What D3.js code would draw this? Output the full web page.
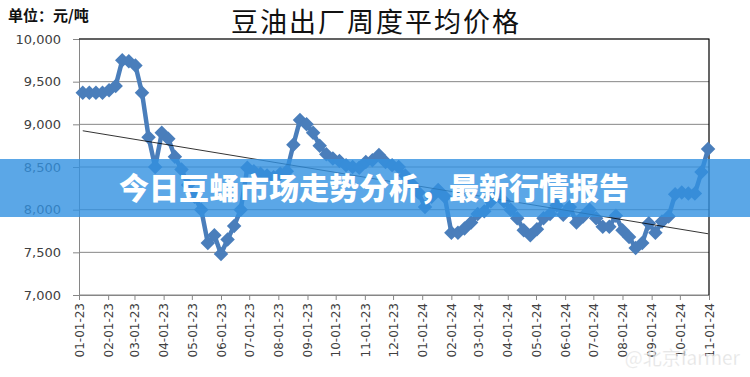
<!DOCTYPE html>
<html>
<head>
<meta charset="utf-8">
<script src="https://cdn.jsdelivr.net/npm/d3@7"></script>
<style>
  body { margin: 0; background: #fff; }
  svg { display: block; }
</style>
</head>
<body>
<script>
// weekly factory price of soybean oil, yuan/ton
var firstWeek = new Date(2023, 0, 5);
var prices = [9370,9370,9370,9370,9400,9450,9750,9740,9690,9370,
    8850,8500,8900,8830,8620,8470,8290,8150,8000,7610,
    7700,7480,7650,7810,8000,8490,8450,8420,8400,8380,
    8420,8450,8760,9050,9000,8900,8750,8650,8600,8570,
    8520,8500,8490,8560,8580,8640,8560,8520,8500,8400,
    8300,8200,8030,8150,8230,8150,7730,7730,7780,7850,
    7950,7980,8100,8190,8100,8000,7900,7760,7700,7770,
    7900,7950,8050,7940,8030,7850,7920,8000,7900,7800,
    7800,7930,7760,7680,7550,7610,7840,7730,7860,7920,
    8180,8200,8190,8190,8440,8710];
var weeks = prices.map(function(d, i) { return d3.timeDay.offset(firstWeek, 7 * i); });
var yTicks = [7000,7500,8000,8500,9000,9500,10000];
var xStart = new Date(2023, 0, 1), xEnd = new Date(2024, 10, 1);

var title = "豆油出厂周度平均价格";
var unitLabel = "单位：元/吨";
var bannerText = "今日豆蛹市场走势分析，最新行情报告";

var svg = d3.select("body").append("svg")
    .attr("width", 750)
    .attr("height", 377);

var plotL = 79, plotR = 709, plotT = 39, plotB = 295;

var x = d3.scaleTime()
    .domain([xStart, xEnd])
    .range([plotL, plotR]);

var y = d3.scaleLinear()
    .domain([7000, 10000])
    .range([plotB, plotT]);

// gridlines + y axis
var yAxis = d3.axisLeft(y)
    .tickValues(yTicks)
    .tickSize(6)
    .tickPadding(12)
    .tickFormat(d3.format(",d"));

svg.append("g")
    .selectAll("line")
    .data(yTicks)
    .enter().append("line")
    .attr("x1", plotL).attr("x2", plotR)
    .attr("y1", function(d) { return y(d); })
    .attr("y2", function(d) { return y(d); })
    .attr("stroke", "#868686")
    .attr("stroke-width", 1);

var gy = svg.append("g")
    .attr("transform", "translate(" + plotL + ",0)")
    .call(yAxis);
gy.select(".domain").attr("stroke", "#868686");
gy.selectAll(".tick line").attr("stroke", "#868686");
gy.selectAll(".tick text")
    .style("font-family", "'DejaVu Sans', Verdana, sans-serif")
    .style("font-size", "13px")
    .attr("fill", "#404040");

// x axis, one tick per month
var xAxis = d3.axisBottom(x)
    .ticks(d3.timeMonth.every(1))
    .tickSize(5)
    .tickFormat(d3.timeFormat("%m-%d-%y"));

var gx = svg.append("g")
    .attr("transform", "translate(0," + plotB + ")")
    .call(xAxis);
gx.select(".domain").attr("stroke", "#868686");
gx.selectAll(".tick line").attr("stroke", "#868686");
gx.selectAll(".tick text")
    .attr("transform", "rotate(-90)")
    .attr("x", -8)
    .attr("y", 0)
    .attr("dy", "0.35em")
    .style("text-anchor", "end")
    .style("font-family", "'DejaVu Sans', Tahoma, sans-serif")
    .style("font-size", "12px")
    .attr("fill", "#404040");

// top and right border of plot area
svg.append("path")
    .attr("d", "M" + plotL + "," + plotT + "H" + plotR + "V" + plotB)
    .attr("fill", "none")
    .attr("stroke", "#000")
    .attr("stroke-width", 1.2);

// price line
var line = d3.line()
    .x(function(d, i) { return x(weeks[i]); })
    .y(function(d) { return y(d); });

svg.append("path")
    .datum(prices)
    .attr("d", line)
    .attr("fill", "none")
    .attr("stroke", "#4A7EBB")
    .attr("stroke-width", 4.5)
    .attr("stroke-linejoin", "round");

var diamond = d3.symbol().type(d3.symbolSquare).size(105);
svg.append("g")
    .selectAll("path")
    .data(prices)
    .enter().append("path")
    .attr("d", diamond)
    .attr("transform", function(d, i) {
        return "translate(" + x(weeks[i]) + "," + y(d) + ") rotate(45)";
    })
    .attr("fill", "#4A7EBB");

// linear trend line
var n = prices.length;
var mx = d3.mean(prices, function(d, i) { return i; });
var my = d3.mean(prices);
var slope = d3.sum(prices, function(d, i) { return (i - mx) * (d - my); }) /
    d3.sum(prices, function(d, i) { return (i - mx) * (i - mx); });
var icpt = my - slope * mx;

svg.append("line")
    .attr("x1", x(weeks[0]))
    .attr("y1", y(icpt))
    .attr("x2", x(weeks[n - 1]))
    .attr("y2", y(icpt + slope * (n - 1)))
    .attr("stroke", "#000")
    .attr("stroke-width", 0.8);

// titles
svg.append("text")
    .attr("x", 376)
    .attr("y", 32)
    .attr("text-anchor", "middle")
    .style("font-family", "'Noto Sans CJK SC', sans-serif")
    .style("font-size", "27px")
    .style("letter-spacing", "2px")
    .attr("fill", "#111")
    .text(title);

svg.append("text")
    .attr("x", 8)
    .attr("y", 21)
    .style("font-family", "'Noto Sans CJK SC', sans-serif")
    .style("font-size", "15px")
    .style("font-weight", "bold")
    .attr("fill", "#111")
    .text(unitLabel);

// banner across the middle
svg.append("rect")
    .attr("x", 0)
    .attr("y", 159)
    .attr("width", 750)
    .attr("height", 58)
    .attr("fill", "rgb(50,145,225)")
    .attr("fill-opacity", 0.8);

svg.append("text")
    .attr("x", 374)
    .attr("y", 199)
    .attr("text-anchor", "middle")
    .style("font-family", "'Noto Sans CJK SC', sans-serif")
    .style("font-size", "30px")
    .style("font-weight", "900")
    .attr("fill", "#fff")
    .text(bannerText);

// faint watermark
svg.append("text")
    .attr("x", 740)
    .attr("y", 365)
    .attr("text-anchor", "end")
    .style("font-family", "'Noto Sans CJK SC', sans-serif")
    .style("font-size", "19px")
    .attr("fill", "#c8c8c8")
    .attr("fill-opacity", 0.6)
    .attr("stroke", "#fff")
    .attr("stroke-opacity", 0.5)
    .attr("stroke-width", 1)
    .text("@北京farmer");
</script>
</body>
</html>
